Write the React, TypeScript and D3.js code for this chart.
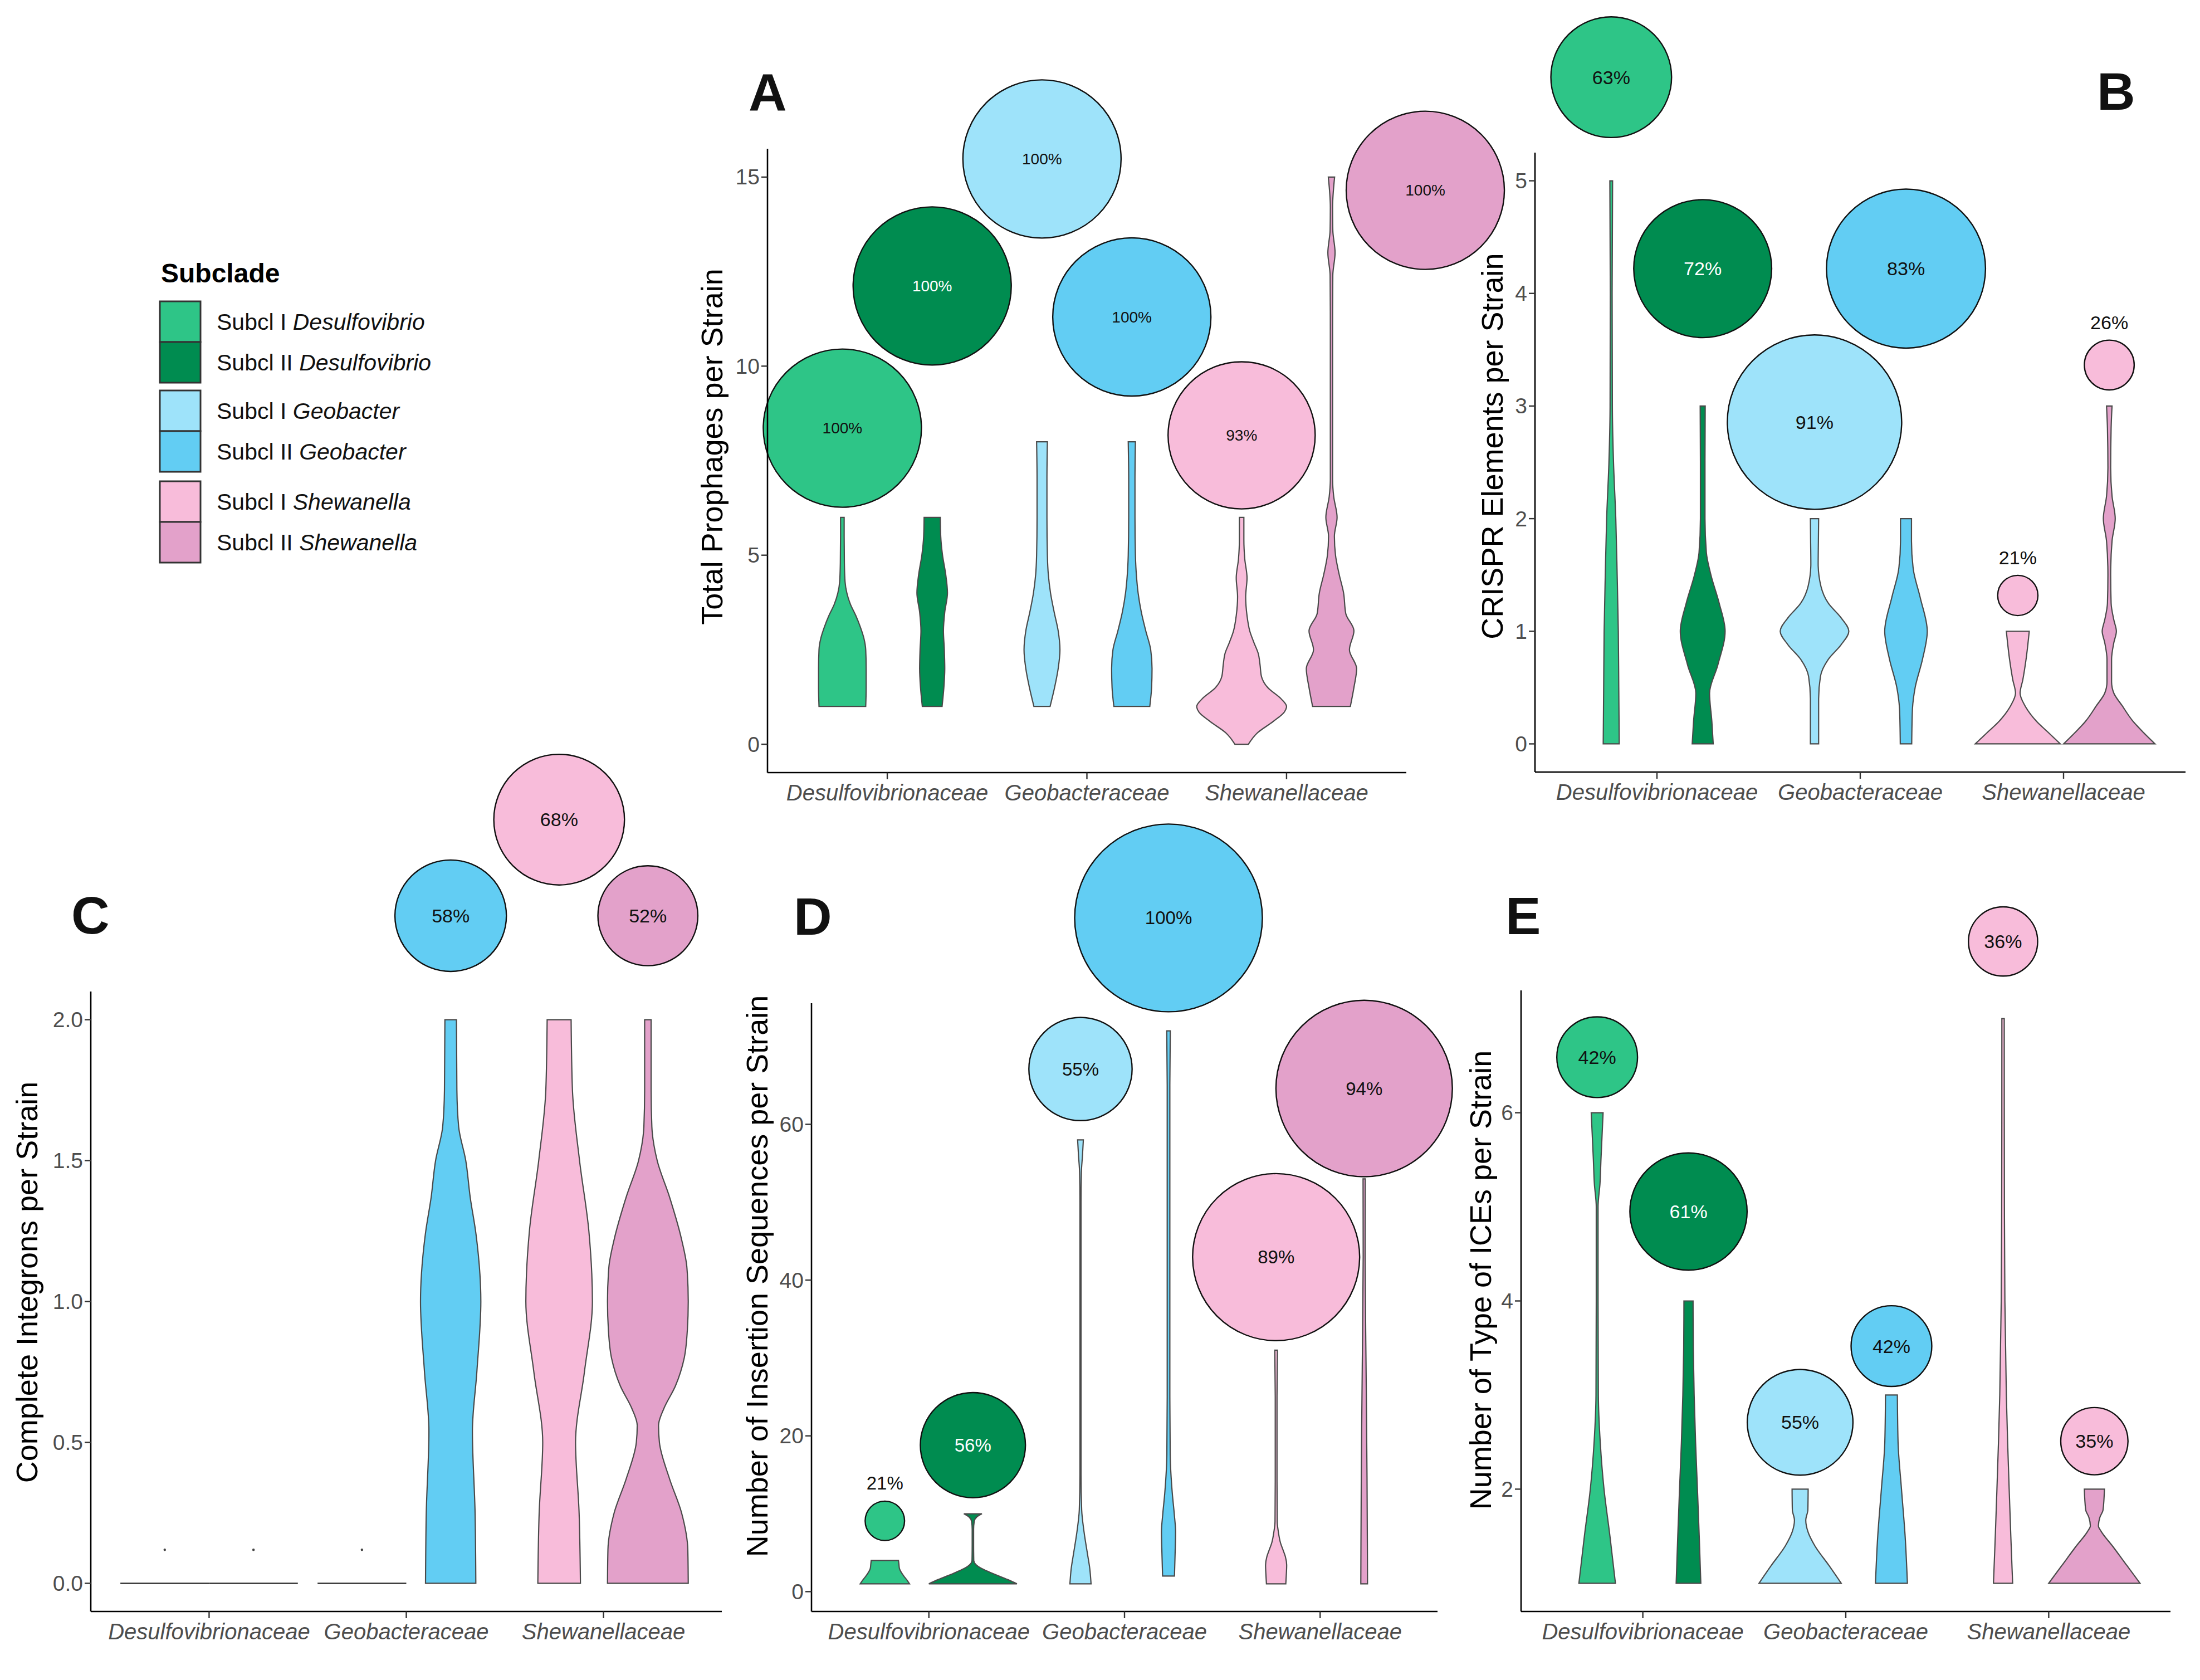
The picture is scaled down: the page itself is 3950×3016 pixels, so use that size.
import * as d3 from 'd3';
import React from 'react';

type Profile = [number, number][];

interface Bubble {
  g: number,
  c: number,
  dx: number,
  y: number,
  pct: number
}

// x categories and subclade groups
const families = ['Desulfovibrionaceae', 'Geobacteraceae', 'Shewanellaceae'];
const ranks = ['Subcl I', 'Subcl II'];
const genera = ['Desulfovibrio', 'Geobacter', 'Shewanella'];
const groupColors = ['#2EC587', '#008C50', '#9EE3FA', '#62CDF3', '#F8BCDA', '#E3A1CA'];

// violin profiles: [value per strain, relative width] for the six subclades
const prophageViolins: Profile[] = [
  [[1, 0.52], [1.5, 0.53], [2, 0.53], [2.5, 0.52], [2.8, 0.48], [3.1, 0.40], [3.4, 0.30], [3.7, 0.18], [4, 0.10], [4.3, 0.06], [4.8, 0.045], [5.5, 0.04], [6, 0.04]],
  [[1, 0.22], [1.5, 0.26], [2, 0.28], [2.5, 0.27], [3, 0.25], [3.5, 0.28], [4, 0.34], [4.5, 0.30], [5, 0.23], [5.5, 0.19], [6, 0.18]],
  [[1, 0.18], [1.5, 0.28], [2, 0.36], [2.5, 0.40], [3, 0.36], [3.5, 0.27], [4, 0.19], [4.5, 0.14], [5, 0.12], [6, 0.11], [7, 0.11], [8, 0.12]],
  [[1, 0.40], [1.5, 0.44], [2, 0.45], [2.5, 0.42], [3, 0.31], [3.5, 0.21], [4, 0.14], [4.5, 0.10], [5, 0.08], [6, 0.07], [7, 0.07], [8, 0.08]],
  [[0, 0.15], [0.3, 0.35], [0.6, 0.70], [0.85, 0.95], [1, 1], [1.2, 0.88], [1.5, 0.58], [1.8, 0.44], [2.1, 0.41], [2.4, 0.37], [2.7, 0.27], [3, 0.18], [3.4, 0.12], [3.9, 0.09], [4.4, 0.12], [4.9, 0.07], [5.4, 0.05], [6, 0.05]],
  [[1, 0.42], [1.5, 0.50], [2, 0.56], [2.5, 0.40], [3, 0.50], [3.45, 0.32], [4, 0.27], [4.5, 0.17], [5, 0.09], [5.5, 0.065], [6, 0.125], [6.55, 0.05], [7, 0.025], [9, 0.025], [11, 0.025], [12.4, 0.03], [13, 0.08], [13.6, 0.03], [14.2, 0.025], [15, 0.07]]
];
const crisprViolins: Profile[] = [
  [[0, 0.175], [0.5, 0.165], [1, 0.155], [1.5, 0.13], [2, 0.10], [2.5, 0.05], [3, 0.025], [4, 0.02], [5, 0.03]],
  [[0, 0.23], [0.2, 0.20], [0.45, 0.15], [0.7, 0.33], [1, 0.49], [1.25, 0.36], [1.5, 0.18], [1.7, 0.08], [2, 0.05], [2.5, 0.05], [3, 0.055]],
  [[0, 0.09], [0.4, 0.09], [0.6, 0.13], [0.75, 0.30], [0.88, 0.58], [1, 0.75], [1.12, 0.58], [1.25, 0.30], [1.4, 0.14], [1.6, 0.08], [1.8, 0.085], [2, 0.09]],
  [[0, 0.125], [0.3, 0.14], [0.5, 0.20], [0.75, 0.36], [1, 0.465], [1.3, 0.31], [1.55, 0.16], [1.8, 0.12], [2, 0.12]],
  [[0, 0.93], [0.1, 0.67], [0.2, 0.41], [0.34, 0.155], [0.45, 0.05], [0.57, 0.11], [0.75, 0.18], [1, 0.25]],
  [[0, 1], [0.1, 0.75], [0.2, 0.52], [0.34, 0.28], [0.45, 0.10], [0.55, 0.05], [0.75, 0.05], [0.9, 0.10], [1, 0.155], [1.1, 0.10], [1.25, 0.04], [1.5, 0.03], [1.8, 0.06], [2, 0.13], [2.2, 0.06], [2.45, 0.03], [2.8, 0.04], [3, 0.06]]
];
const integronViolins: Profile[] = [
  [[0, 1]],
  [[0, 1]],
  [[0, 1]],
  [[0, 0.567], [0.25, 0.55], [0.54, 0.49], [0.75, 0.59], [1, 0.68], [1.24, 0.57], [1.37, 0.44], [1.5, 0.34], [1.62, 0.18], [1.75, 0.14], [2, 0.13]],
  [[0, 0.48], [0.25, 0.45], [0.5, 0.37], [0.75, 0.57], [1, 0.75], [1.25, 0.67], [1.5, 0.46], [1.75, 0.30], [2, 0.27]],
  [[0, 0.91], [0.12, 0.90], [0.25, 0.76], [0.37, 0.49], [0.5, 0.26], [0.56, 0.24], [0.62, 0.36], [0.7, 0.62], [0.8, 0.82], [0.9, 0.89], [1, 0.91], [1.12, 0.88], [1.22, 0.76], [1.37, 0.49], [1.5, 0.21], [1.62, 0.09], [1.75, 0.073], [2, 0.073]]
];
const insertionViolins: Profile[] = [
  [[1, 0.56], [1.5, 0.50], [2, 0.43], [2.5, 0.37], [3, 0.33], [3.5, 0.32], [4, 0.31]],
  [[1, 1], [1.5, 0.81], [2, 0.59], [2.5, 0.38], [3, 0.19], [3.5, 0.065], [4, 0.02], [6, 0.016], [8, 0.016], [9, 0.03], [9.6, 0.09], [10, 0.205]],
  [[1, 0.24], [3, 0.21], [4.8, 0.16], [7.7, 0.08], [10.5, 0.027], [15, 0.012], [30, 0.012], [50, 0.012], [53.8, 0.02], [56, 0.045], [58, 0.065]],
  [[2, 0.135], [5, 0.15], [7.7, 0.16], [10, 0.13], [12.6, 0.086], [17.6, 0.038], [25, 0.03], [40, 0.03], [55, 0.03], [65, 0.03], [72, 0.04]],
  [[1, 0.22], [2, 0.23], [3.4, 0.24], [4.5, 0.21], [5.3, 0.16], [6.25, 0.10], [7.7, 0.05], [9, 0.025], [15, 0.02], [25, 0.02], [31, 0.03]],
  [[1, 0.076], [14.8, 0.065], [29, 0.043], [43, 0.022], [53, 0.025]]
];
const iceViolins: Profile[] = [
  [[1, 0.40], [1.5, 0.28], [2, 0.15], [2.5, 0.067], [3, 0.026], [4, 0.02], [5, 0.02], [5.25, 0.062], [5.5, 0.083], [6, 0.13]],
  [[1, 0.27], [1.5, 0.235], [2, 0.196], [2.5, 0.155], [3, 0.124], [3.5, 0.105], [4, 0.10]],
  [[1, 0.90], [1.19, 0.63], [1.4, 0.32], [1.55, 0.17], [1.67, 0.124], [1.78, 0.17], [2, 0.176]],
  [[1, 0.35], [1.5, 0.30], [2, 0.22], [2.5, 0.145], [3, 0.13]],
  [[1, 0.21], [1.5, 0.17], [2, 0.134], [2.5, 0.10], [3, 0.072], [4, 0.04], [5, 0.03], [6, 0.027], [7, 0.026]],
  [[1, 1], [1.19, 0.71], [1.4, 0.39], [1.55, 0.15], [1.61, 0.088], [1.7, 0.12], [1.78, 0.19], [2, 0.22]]
];

// share of strains carrying the element, bubble placed at (category offset, value); c = fill group
const prophageBubbles: Bubble[] = [
  {g: 0, c: 0, dx: -0.225, y: 8.36, pct: 100},
  {g: 1, c: 1, dx: 0.225, y: 12.12, pct: 100},
  {g: 2, c: 2, dx: -0.225, y: 15.48, pct: 100},
  {g: 3, c: 3, dx: 0.225, y: 11.3, pct: 100},
  {g: 4, c: 4, dx: -0.225, y: 8.17, pct: 93},
  {g: 5, c: 5, dx: 0.695, y: 14.65, pct: 100}
];
const crisprBubbles: Bubble[] = [
  {g: 0, c: 0, dx: -0.225, y: 5.92, pct: 63},
  {g: 1, c: 1, dx: 0.225, y: 4.22, pct: 72},
  {g: 2, c: 2, dx: -0.225, y: 2.857, pct: 91},
  {g: 3, c: 3, dx: 0.225, y: 4.22, pct: 83},
  {g: 4, c: 4, dx: -0.225, y: 1.318, pct: 21},
  {g: 5, c: 4, dx: 0.225, y: 3.364, pct: 26}
];
const integronBubbles: Bubble[] = [
  {g: 0, c: 0, dx: -0.225, y: 0.119, pct: 0},
  {g: 1, c: 1, dx: 0.225, y: 0.119, pct: 0},
  {g: 2, c: 2, dx: -0.225, y: 0.119, pct: 0},
  {g: 3, c: 3, dx: 0.225, y: 2.369, pct: 58},
  {g: 4, c: 4, dx: -0.225, y: 2.71, pct: 68},
  {g: 5, c: 5, dx: 0.225, y: 2.369, pct: 52}
];
const insertionBubbles: Bubble[] = [
  {g: 0, c: 0, dx: -0.225, y: 9.09, pct: 21},
  {g: 1, c: 1, dx: 0.225, y: 18.81, pct: 56},
  {g: 2, c: 2, dx: -0.225, y: 67.1, pct: 55},
  {g: 3, c: 3, dx: 0.225, y: 86.5, pct: 100},
  {g: 4, c: 4, dx: -0.225, y: 42.95, pct: 89},
  {g: 5, c: 5, dx: 0.225, y: 64.6, pct: 94}
];
const iceBubbles: Bubble[] = [
  {g: 0, c: 0, dx: -0.225, y: 6.59, pct: 42},
  {g: 1, c: 1, dx: 0.225, y: 4.95, pct: 61},
  {g: 2, c: 2, dx: -0.225, y: 2.71, pct: 55},
  {g: 3, c: 3, dx: 0.225, y: 3.52, pct: 42},
  {g: 4, c: 4, dx: -0.225, y: 7.82, pct: 36},
  {g: 5, c: 4, dx: 0.225, y: 2.51, pct: 35}
];

const prophageTicks = [0, 5, 10, 15];
const crisprTicks = [0, 1, 2, 3, 4, 5];
const integronTicks = [0, 0.5, 1, 1.5, 2];
const insertionTicks = [0, 20, 40, 60];
const iceTicks = [2, 4, 6];

const FONT = "'Liberation Sans', Arial, Helvetica, sans-serif";
const HALF = 0.225;

interface PanelSpec {
  letter: string,
  title: string,
  violins: Profile[],
  bubbles: Bubble[],
  ticks: number[],
  fmt: (n: number) => string,
  left: number, right: number, top: number, bottom: number,
  letterX: number, letterY: number,
  titleX: number, titleY: number,
  rPerPct: number,
  pctSize: number
}

const panels: PanelSpec[] = [
  {letter: 'A', title: 'Total Prophages per Strain', violins: prophageViolins, bubbles: prophageBubbles,
    ticks: prophageTicks, fmt: d3.format('d'), left: 1378, right: 2525, top: 267, bottom: 1387,
    letterX: 1344, letterY: 199, titleX: 1278, titleY: 802, rPerPct: 1.42, pctSize: 28},
  {letter: 'B', title: 'CRISPR Elements per Strain', violins: crisprViolins, bubbles: crisprBubbles,
    ticks: crisprTicks, fmt: d3.format('d'), left: 2756, right: 3924, top: 274, bottom: 1386,
    letterX: 3765, letterY: 197, titleX: 2679, titleY: 801, rPerPct: 1.72, pctSize: 34},
  {letter: 'C', title: 'Complete Integrons per Strain', violins: integronViolins, bubbles: integronBubbles,
    ticks: integronTicks, fmt: d3.format('.1f'), left: 163, right: 1296, top: 1780, bottom: 2893,
    letterX: 128, letterY: 1676, titleX: 48, titleY: 2302, rPerPct: 1.725, pctSize: 34},
  {letter: 'D', title: 'Number of Insertion Sequences per Strain', violins: insertionViolins, bubbles: insertionBubbles,
    ticks: insertionTicks, fmt: d3.format('d'), left: 1457, right: 2581, top: 1801, bottom: 2893,
    letterX: 1425, letterY: 1678, titleX: 1359, titleY: 2291, rPerPct: 1.685, pctSize: 33},
  {letter: 'E', title: 'Number of Type of ICEs per Strain', violins: iceViolins, bubbles: iceBubbles,
    ticks: iceTicks, fmt: d3.format('d'), left: 2731, right: 3897, top: 1778, bottom: 2893,
    letterX: 2703, letterY: 1677, titleX: 2658, titleY: 2298, rPerPct: 1.725, pctSize: 34}
];

const Panel: React.FC<{spec: PanelSpec}> = ({spec}) => {
  const allY = spec.violins.flat().map(d => d[0]);
  const [lo, hi] = d3.extent(allY) as [number, number];
  const pad = (hi - lo) * 0.05;
  const y = d3.scaleLinear().domain([lo - pad, hi + pad]).range([spec.bottom, spec.top]);
  const x = d3.scaleLinear().domain([0.4, 3.6]).range([spec.left, spec.right]);
  const center = (g: number) => Math.floor(g / 2) + 1 + (g % 2 === 0 ? -HALF : HALF);

  return (
    <g>
      <text x={spec.letterX} y={spec.letterY} fontSize={95} fontWeight='bold' fill='#111'>{spec.letter}</text>

      {spec.violins.map((prof, g) => {
        const c = center(g);
        if (prof.length === 1) {
          return <line key={g} x1={x(c - HALF)} x2={x(c + HALF)} y1={y(prof[0][0])} y2={y(prof[0][0])}
            stroke='#333' strokeWidth={2.5}/>;
        }
        const area = d3.area<[number, number]>()
          .y(d => y(d[0]))
          .x0(d => x(c - d[1] * HALF))
          .x1(d => x(c + d[1] * HALF))
          .curve(d3.curveMonotoneY);
        return <path key={g} d={area(prof) || ''} fill={groupColors[g]} stroke='#4a4a4a' strokeWidth={2.2}/>;
      })}

      {spec.bubbles.map((b, i) => {
        const cx = x(Math.floor(b.g / 2) + 1 + b.dx);
        const cy = y(b.y);
        const r = b.pct * spec.rPerPct;
        if (b.pct === 0) {
          return <circle key={i} cx={cx} cy={cy} r={2.2} fill='#444'/>;
        }
        const above = b.pct < 30;
        return (
          <g key={i}>
            <circle cx={cx} cy={cy} r={r} fill={groupColors[b.c]} stroke='#111' strokeWidth={2.4}/>
            <text x={cx} y={above ? cy - r - 32 : cy} fontSize={spec.pctSize} textAnchor='middle'
              dominantBaseline='central' fill={b.c === 1 && !above ? '#ffffff' : '#111'}>{`${b.pct}%`}</text>
          </g>
        );
      })}

      <line x1={spec.left} x2={spec.left} y1={spec.top} y2={spec.bottom} stroke='#000' strokeWidth={2.6}/>
      <line x1={spec.left} x2={spec.right} y1={spec.bottom} y2={spec.bottom} stroke='#000' strokeWidth={2.6}/>

      {spec.ticks.map(t => (
        <g key={t}>
          <line x1={spec.left - 11} x2={spec.left} y1={y(t)} y2={y(t)} stroke='#333' strokeWidth={2.4}/>
          <text x={spec.left - 14} y={y(t)} fontSize={39} textAnchor='end' dominantBaseline='central'
            fill='#4D4D4D'>{spec.fmt(t)}</text>
        </g>
      ))}

      {families.map((f, i) => (
        <g key={f}>
          <line x1={x(i + 1)} x2={x(i + 1)} y1={spec.bottom} y2={spec.bottom + 12} stroke='#333' strokeWidth={2.4}/>
          <text x={x(i + 1)} y={spec.bottom + 50} fontSize={40} fontStyle='italic' textAnchor='middle'
            fill='#4D4D4D'>{f}</text>
        </g>
      ))}

      <text transform={`translate(${spec.titleX},${spec.titleY}) rotate(-90)`} fontSize={54}
        textAnchor='middle' dominantBaseline='central' fill='#000'>{spec.title}</text>
    </g>
  );
};

const Legend: React.FC = () => {
  const keyTops = [541, 701, 864];
  const size = 73;
  return (
    <g>
      <text x={289} y={507} fontSize={48} fontWeight='bold' fill='#000'>Subclade</text>
      {genera.map((gen, k) => ranks.map((rank, j) => {
        const g = k * 2 + j;
        const top = keyTops[k] + j * size;
        return (
          <g key={g}>
            <rect x={287} y={top} width={size} height={size} fill={groupColors[g]} stroke='#333' strokeWidth={3}/>
            <text x={389} y={top + size / 2} fontSize={41} dominantBaseline='central' fill='#111'>
              <tspan>{`${rank} `}</tspan>
              <tspan fontStyle='italic'>{gen}</tspan>
            </text>
          </g>
        );
      }))}
    </g>
  );
};

export default function App() {
  return (
    <div style={{position: 'absolute', left: 0, top: 0}}>
      <svg width={3950} height={3016} viewBox='0 0 3950 3016' style={{display: 'block', background: '#fff'}}
        fontFamily={FONT}>
        <rect width={3950} height={3016} fill='#fff'/>
        <Legend/>
        {panels.map(p => <Panel key={p.letter} spec={p}/>)}
      </svg>
    </div>
  );
}
